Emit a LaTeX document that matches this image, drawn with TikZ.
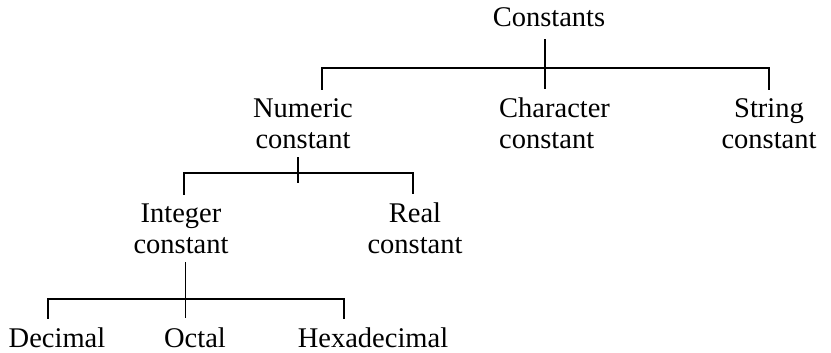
\documentclass[tikz,border=0pt]{standalone}
\usepackage{fontspec}
\setmainfont{Liberation Serif}
\begin{document}
\begin{tikzpicture}[x=1pt,y=-1pt,
  lbl/.style={font=\fontsize{28.5}{30.5}\selectfont, inner xsep=0pt, inner ysep=9pt, anchor=base, align=center},
  ln/.style={line width=1.5pt, line cap=rect},
  lnthin/.style={line width=1pt}]
\useasboundingbox (0,0) rectangle (831,353);
% level 0
\node[lbl, inner ysep=12pt] (C) at (549,27) {Constants};
% level 1 (anchor base = baseline of last line)
\node[lbl] (N) at (303,148) {Numeric\\constant};
\node[lbl, anchor=base west, align=left] (Ch) at (499,148) {Character\\constant};
\node[lbl] (S) at (769,148) {String\\constant};
% level 2
\node[lbl] (I) at (181,253) {Integer\\constant};
\node[lbl] (R) at (415,253) {Real\\constant};
% level 3
\node[lbl] (D) at (57,347) {Decimal};
\node[lbl] (O) at (195,347) {Octal};
\node[lbl] (H) at (373,347) {Hexadecimal};
% bars
\coordinate (k1) at (545,68);
\coordinate (k2) at (298,173);
\coordinate (k3) at (185,299);
% connectors level 0 -> 1
\draw[ln] ([xshift=-4pt]C.south) -- ([xshift=-4pt]C.south |- Ch.north);
\draw[ln] ([xshift=19pt]N.north) |- (k1) -| (S.north);
% level 1 -> 2
\draw[ln] ([xshift=-5pt]N.south) -- ++(0,25);
\draw[ln] ([xshift=3pt]I.north) |- (k2) -| ([xshift=-2pt]R.north);
% level 2 -> 3
\draw[lnthin] ([xshift=4pt]I.south) -- ([xshift=4pt]I.south |- O.north);
\draw[ln] ([xshift=-9pt]D.north) |- (k3) -| ([xshift=-29pt]H.north);
\end{tikzpicture}
\end{document}
